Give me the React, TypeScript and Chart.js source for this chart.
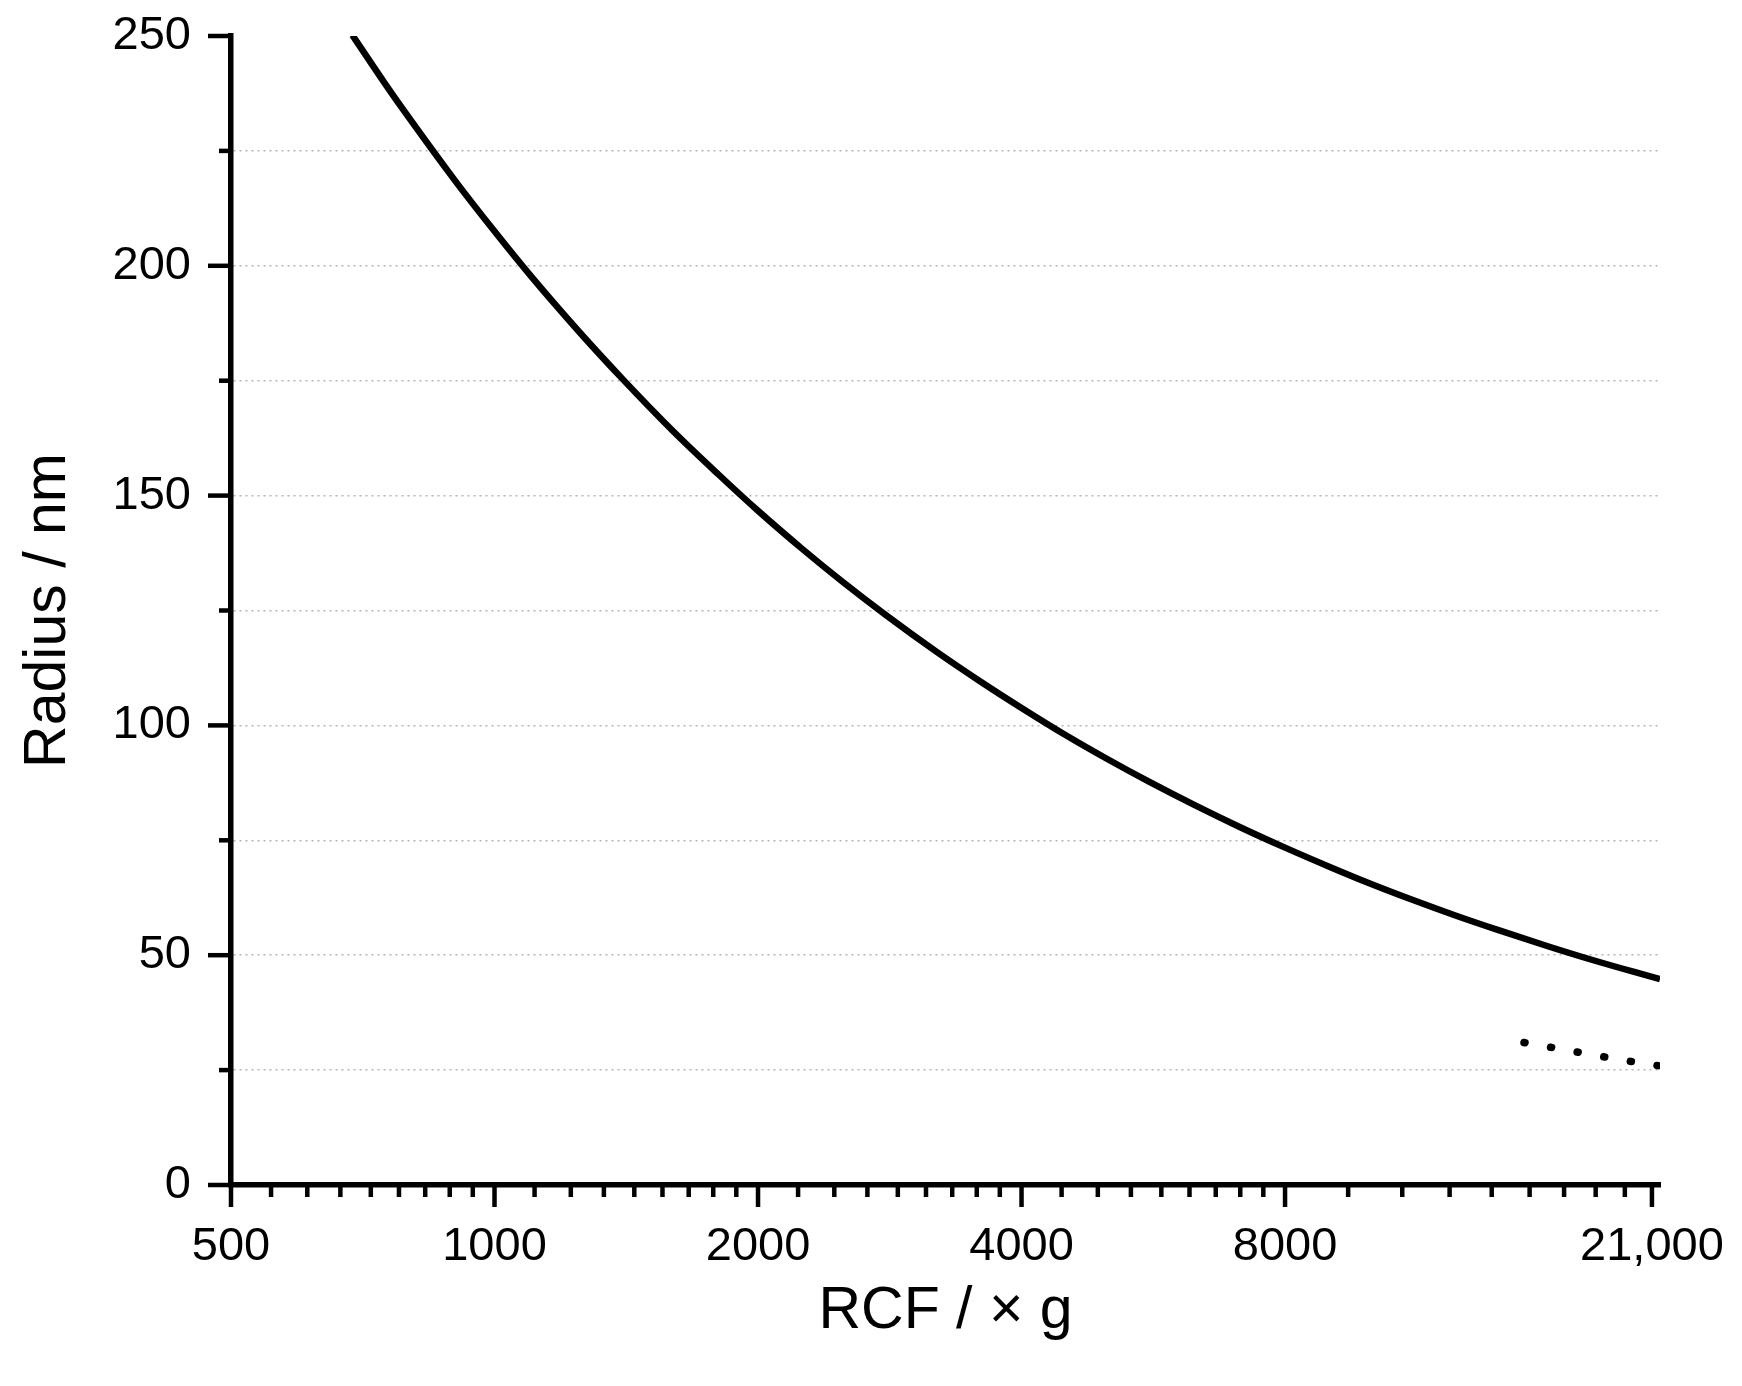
import React, { useEffect, useRef } from "react";
import { Chart, registerables } from "chart.js";

Chart.register(...registerables);

// ---- data ----
const rcfSolid = [688, 750, 800, 900, 1000, 1100, 1250, 1400, 1600, 1800, 2000, 2250, 2500, 2800, 3200, 3600, 4000, 4500, 5000, 5600, 6300, 7100, 8000, 9000, 10000, 11200, 12500, 14000, 16000, 18000, 20000, 21450];
const radiusSolid = [250.2, 239.6, 232.0, 218.7, 207.5, 197.8, 185.6, 175.4, 164.0, 154.7, 146.7, 138.3, 131.2, 124.0, 116.0, 109.4, 103.8, 97.8, 92.8, 87.7, 82.7, 77.9, 73.4, 69.2, 65.6, 62.0, 58.7, 55.5, 51.9, 48.9, 46.4, 44.8];

const rcfDotted = [15000, 16500, 18000, 19700, 21450];
const radiusDotted = [31.0, 29.6, 28.3, 27.0, 25.9];

const xMajorTicks = [500, 1000, 2000, 4000, 8000, 21000];
const xTickLabels = ["500", "1000", "2000", "4000", "8000", "21,000"];
const xMinorPerInterval = 8;

const yMajorTicks = [0, 50, 100, 150, 200, 250];
const yMinorTicks = [25, 75, 125, 175, 225];

const xTitle = "RCF / \u00d7 g";
const yTitle = "Radius / nm";

const FONT = "'Liberation Sans', Arial, Helvetica, sans-serif";

const tickMarksPlugin = {
  id: "tickMarks",
  afterDraw(chart: any) {
    const ctx = chart.ctx;
    const xs = chart.scales.x;
    const ys = chart.scales.y;
    const { left, bottom } = chart.chartArea;
    ctx.save();
    ctx.strokeStyle = "#000";
    ctx.lineWidth = 4.5;
    ctx.lineCap = "butt";
    const vline = (x: number, len: number) => {
      ctx.beginPath();
      ctx.moveTo(x, bottom);
      ctx.lineTo(x, bottom + len);
      ctx.stroke();
    };
    const hline = (y: number, len: number) => {
      ctx.beginPath();
      ctx.moveTo(left, y);
      ctx.lineTo(left - len, y);
      ctx.stroke();
    };
    for (let i = 0; i < xMajorTicks.length; i++) {
      vline(xs.getPixelForValue(xMajorTicks[i]), 22);
      if (i < xMajorTicks.length - 1) {
        const a = xMajorTicks[i];
        const b = xMajorTicks[i + 1];
        const step = (b - a) / (xMinorPerInterval + 1);
        for (let k = 1; k <= xMinorPerInterval; k++) {
          vline(xs.getPixelForValue(a + k * step), 12);
        }
      }
    }
    yMajorTicks.forEach((v) => hline(ys.getPixelForValue(v), 23));
    yMinorTicks.forEach((v) => hline(ys.getPixelForValue(v), 12));
    ctx.restore();
  },
};

export default function App() {
  const ref = useRef<HTMLCanvasElement | null>(null);

  useEffect(() => {
    const canvas = ref.current;
    if (!canvas) return;
    const chart = new Chart(canvas, {
      type: "line",
      data: {
        datasets: [
          {
            data: rcfSolid.map((x, i) => ({ x, y: radiusSolid[i] })),
            borderColor: "#000",
            borderWidth: 6.5,
            pointRadius: 0,
            cubicInterpolationMode: "monotone",
            fill: false,
          },
          {
            data: rcfDotted.map((x, i) => ({ x, y: radiusDotted[i] })),
            borderColor: "#000",
            borderWidth: 7.5,
            borderDash: [1, 26],
            borderCapStyle: "round",
            pointRadius: 0,
            cubicInterpolationMode: "monotone",
            fill: false,
          },
        ],
      },
      options: {
        animation: false,
        responsive: false,
        devicePixelRatio: 1,
        layout: { padding: { left: 0, right: 82, top: 36, bottom: 0 } },
        plugins: {
          legend: { display: false },
          tooltip: { enabled: false },
        },
        scales: {
          x: {
            type: "logarithmic",
            min: 500,
            max: 21450,
            afterBuildTicks: (s: any) => {
              s.ticks = xMajorTicks.map((v) => ({ value: v }));
            },
            afterFit: (s: any) => {
              s.height = 201;
              s.paddingLeft = 0;
              s.paddingRight = 0;
            },
            grid: { drawOnChartArea: false, drawTicks: false },
            border: { display: true, color: "#000", width: 5.5 },
            ticks: {
              autoSkip: false,
              maxRotation: 0,
              minRotation: 0,
              padding: 34,
              color: "#000",
              font: { family: FONT, size: 47 },
              callback: (value: any) => {
                const idx = xMajorTicks.indexOf(Number(value));
                return idx >= 0 ? xTickLabels[idx] : "";
              },
            },
            title: {
              display: true,
              text: xTitle,
              color: "#000",
              font: { family: FONT, size: 59 },
              padding: { top: 0, bottom: 39 },
            },
          },
          y: {
            type: "linear",
            min: 0,
            max: 250,
            afterBuildTicks: (s: any) => {
              s.ticks = [...yMajorTicks, ...yMinorTicks].sort((a, b) => a - b).map((v) => ({ value: v }));
            },
            afterFit: (s: any) => {
              s.width = 231;
              s.paddingTop = 0;
              s.paddingBottom = 0;
            },
            grid: {
              drawTicks: false,
              lineWidth: 1.5,
              color: (c: any) => {
                const v = c.tick ? c.tick.value : null;
                return v === 0 || v === 250 ? "rgba(0,0,0,0)" : "#b4b4b4";
              },
            },
            border: { display: true, color: "#000", width: 5.5, dash: [2, 4] },
            ticks: {
              padding: 40,
              color: "#000",
              font: { family: FONT, size: 47 },
              callback: (value: any) => (yMajorTicks.includes(Number(value)) ? String(value) : ""),
            },
            title: {
              display: true,
              text: yTitle,
              color: "#000",
              font: { family: FONT, size: 59 },
              padding: { top: 13, bottom: 0 },
            },
          },
        },
      },
      plugins: [tickMarksPlugin],
    } as any);
    return () => chart.destroy();
  }, []);

  return (
    <div style={{ position: "absolute", left: 0, top: 0, width: 1742, height: 1386, background: "#fff" }}>
      <canvas ref={ref} width={1742} height={1386} style={{ width: 1742, height: 1386, display: "block" }} />
    </div>
  );
}
